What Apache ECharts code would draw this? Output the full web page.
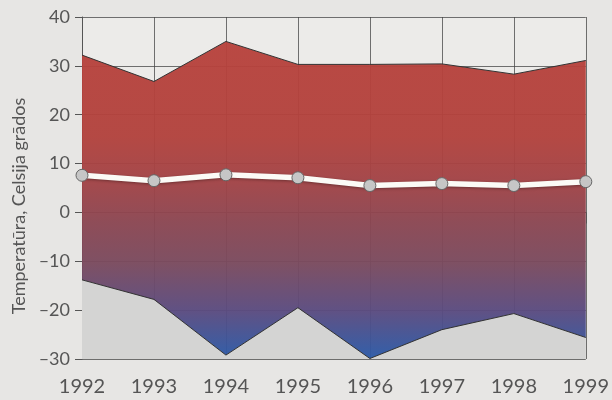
<!DOCTYPE html>
<html><head><meta charset="utf-8">
<script src="https://cdn.jsdelivr.net/npm/echarts@6/dist/echarts.min.js"></script>
<style>html,body{margin:0;padding:0;background:#e7e6e4;}#c{width:612px;height:400px;}</style>
</head><body><div id="c"></div>
<script>
const years = ['1992','1993','1994','1995','1996','1997','1998','1999'];
const maxT = [32.2, 26.8, 35.0, 30.3, 30.3, 30.4, 28.3, 31.1];
const meanT = [7.6, 6.5, 7.7, 7.1, 5.5, 5.9, 5.5, 6.3];
const minT = [-13.8, -17.8, -29.2, -19.5, -29.9, -24.0, -20.7, -25.6];
const yTicks = {min: -30, max: 40, step: 10};

const range = maxT.map((v, i) => +(v - minT[i]).toFixed(2));
const font = 'Lato, "Noto Sans", sans-serif';
const chart = echarts.init(document.getElementById('c'), null, {renderer: 'canvas'});
const gridTop = 17, gridBottom = 41;
chart.setOption({
  backgroundColor: '#e7e6e4',
  animation: false,
  grid: {left: 82, right: 25, top: gridTop, bottom: gridBottom, show: true, backgroundColor: '#ecebe9', borderWidth: 0},
  xAxis: {
    type: 'category', data: years, boundaryGap: false,
    axisLine: {show: true, lineStyle: {color: '#555', width: 1}},
    axisTick: {show: true, length: 11, lineStyle: {color: '#555'}},
    axisLabel: {color: '#555', fontSize: 20, fontFamily: font, margin: 18},
    splitLine: {show: true, lineStyle: {color: '#444', width: 1, opacity: 0.75}}
  },
  yAxis: {
    type: 'value', min: yTicks.min, max: yTicks.max, interval: yTicks.step,
    name: 'Temperatūra, Celsija grādos', nameLocation: 'middle', nameGap: 52,
    nameTextStyle: {color: '#555', fontSize: 18, fontFamily: font, padding: [0, 36, 0, 0]},
    axisLine: {show: true, lineStyle: {color: '#555', width: 1}},
    axisTick: {show: true, length: 7, lineStyle: {color: '#555'}},
    axisLabel: {color: '#555', fontSize: 18, fontFamily: font, margin: 12,
      formatter: v => String(v).replace('-', '–')},
    splitLine: {show: true, lineStyle: {color: '#444', width: 1, opacity: 0.75}}
  },
  series: [
    {type: 'line', data: minT, symbol: 'none', silent: true, z: 1,
      lineStyle: {width: 0}, areaStyle: {origin: 'start', color: '#d4d4d3', opacity: 1}},
    {type: 'line', data: minT, stack: 'r', stackStrategy: 'all', symbol: 'none', z: 2,
      lineStyle: {color: '#333', width: 1}},
    {type: 'line', data: range, stack: 'r', stackStrategy: 'all', symbol: 'none', z: 2,
      lineStyle: {color: '#333', width: 1},
      areaStyle: {opacity: 0.96, color: new echarts.graphic.LinearGradient(0, gridTop, 0, 400 - gridBottom, [
        {offset: 0, color: '#b9423c'},
        {offset: 0.35, color: '#b2423d'},
        {offset: 0.48, color: '#a24346'},
        {offset: 0.6, color: '#8b4652'},
        {offset: 0.72, color: '#7a4a5e'},
        {offset: 0.86, color: '#5a4b80'},
        {offset: 1, color: '#2a5aa8'}
      ], true)}},
    {type: 'line', data: meanT, symbol: 'circle', symbolSize: 12, z: 5,
      lineStyle: {color: '#fbfaf6', width: 5.5, shadowColor: 'rgba(0,0,0,0.35)', shadowBlur: 3, shadowOffsetY: 1},
      itemStyle: {color: '#c6c6c6', borderColor: '#666', borderWidth: 1}}
  ]
});
</script></body></html>
